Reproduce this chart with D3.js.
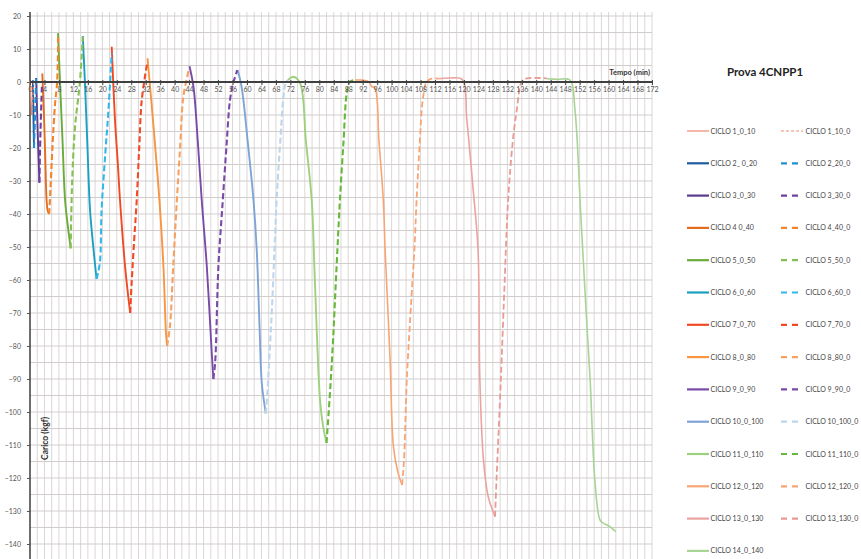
<!DOCTYPE html>
<html><head><meta charset="utf-8">
<script src="https://cdn.jsdelivr.net/npm/d3@7"></script>
<style>body{margin:0;background:#fff;}svg{display:block;font-family:Lato,"Open Sans",sans-serif;}</style>
</head><body>
<svg id="c" width="861" height="559"></svg>
<script>
// ---- data (time in min, load in kgf) ----
const load1 = [[0,0.5],[0.2,-4],[0.5,-10]];
const unload1 = [[0.5,-10],[0.8,-4],[1.0,0]];
const load2 = [[0.8,0.5],[0.95,-10],[1.1,-20]];
const unload2 = [[1.1,-20],[1.4,-10],[1.7,1]];
const load3 = [[1.7,1.2],[2.1,-14],[2.6,-30.5]];
const unload3 = [[2.6,-30.5],[2.9,-15],[3.3,-1]];
const load4 = [[3.4,2.6],[3.8,-8],[4.2,-22],[4.6,-36],[4.9,-39],[5.3,-40]];
const unload4 = [[5.3,-40],[5.5,-36],[6.2,-20],[6.9,-7],[7.5,0],[7.8,14.2]];
const load5 = [[7.75,14.8],[8.3,0],[9.0,-18],[9.7,-35.8],[10.5,-44],[11.25,-50.4]];
const unload5 = [[11.25,-50.4],[11.5,-36],[11.8,-26],[12.5,-13],[13.8,0],[14.6,13.7]];
const load6 = [[14.6,13.9],[15.2,-0.4],[15.9,-20],[16.6,-38.8],[17.5,-50],[18.4,-59.7]];
const unload6 = [[18.4,-59.7],[19.3,-55],[19.8,-38.8],[20.8,-22],[21.7,-8.5],[22.6,8.7]];
const load7 = [[22.6,10.7],[23.5,-11.5],[24.3,-25],[24.9,-36],[26.3,-56],[27.7,-70]];
const unload7 = [[27.7,-70],[28.1,-61],[28.8,-48],[29.5,-36],[30.2,-20],[30.9,-5.5],[32.4,5.7]];
const load8 = [[32.5,7.2],[33.6,-6.4],[34.8,-22],[35.8,-36],[36.9,-56],[37.6,-76],[37.9,-80]];
const unload8 = [[37.9,-80],[38.7,-74],[39.6,-56],[40.6,-36],[41.5,-20],[42.4,-4.5],[44,4.1]];
const load9 = [[44.1,4.8],[45.2,-1.4],[46.4,-18],[47.5,-36],[48.9,-56],[50.2,-81],[50.7,-90]];
const unload9 = [[50.7,-90],[51.2,-85],[52.1,-56],[53.3,-36],[54.3,-20],[55.3,-5.5],[56.2,-0.4],[57.3,3.6]];
const load10 = [[57.4,3.6],[58.5,-1.4],[60.2,-18],[61.8,-35.8],[62.7,-50.9],[63.5,-75],[64.1,-91.3],[65.2,-100.4]];
const unload10 = [[65.2,-100.4],[65.5,-96.4],[66.8,-71],[67.6,-50.9],[68.2,-35.8],[69.2,-18],[70.1,-4.5],[70.8,0.1],[71.4,0.6]];
const load11 = [[71.4,0.6],[72.8,1.6],[74.7,-0.4],[76.3,-18],[77.9,-35.8],[78.8,-61],[80.2,-96.4],[81,-104],[82,-109.4]];
const unload11 = [[82,-109.4],[83.4,-86.3],[85,-50.9],[85.7,-35.8],[86.7,-18],[87.6,-3.4],[88.5,0.1],[89.9,0.6]];
const load12 = [[89.9,0.6],[91.3,0.6],[93.6,0.1],[94.5,-1.4],[95.4,-1.8],[96.5,-18],[97.7,-35.8],[98.2,-50.9],[99.0,-70],[99.6,-85],[100.5,-110.5],[101.8,-118.6],[102.9,-122.1]];
const unload12 = [[102.9,-122.1],[103.4,-115],[104.2,-90.3],[105.5,-65],[106.3,-50.9],[106.9,-35.8],[107.8,-18],[108.6,-5.5],[109.7,0.1],[111,1],[113,1]];
const load13 = [[113,1],[116,1.2],[119.5,0.8],[120.8,-11.5],[122.5,-32],[123.9,-51],[124.4,-90.3],[125.4,-114.5],[126.7,-125.6],[128.6,-131.7]];
const unload13 = [[128.6,-131.7],[129,-120.6],[130.2,-90.3],[131.2,-62],[132.2,-36],[133.5,-18],[134.6,-8.5],[136,0.1],[137.4,1.1],[142.9,1.1]];
const load14 = [[142.9,1],[146,0.8],[149.3,0.6],[150.7,-8.5],[152.3,-40],[153.8,-70],[154.9,-90.3],[156.2,-120.6],[157.6,-132.7],[158.5,-133.7],[160.3,-134.7],[162,-136.3]];

const loadSeries = [load1,load2,load3,load4,load5,load6,load7,load8,load9,load10,load11,load12,load13,load14];
const unloadSeries = [unload1,unload2,unload3,unload4,unload5,unload6,unload7,unload8,unload9,unload10,unload11,unload12,unload13];
const loadNames = ["CICLO 1_0_10","CICLO 2_ 0_20","CICLO 3_0_30","CICLO 4 0_40","CICLO 5_0_50","CICLO 6_0_60","CICLO 7_0_70","CICLO 8_0_80","CICLO 9_0_90","CICLO 10_0_100","CICLO 11_0_110","CICLO 12_0_120","CICLO 13_0_130","CICLO 14_0_140"];
const unloadNames = ["CICLO 1_10_0","CICLO 2_20_0","CICLO 3_30_0","CICLO 4_40_0","CICLO 5_50_0","CICLO 6_60_0","CICLO 7_70_0","CICLO 8_80_0","CICLO 9_90_0","CICLO 10_100_0","CICLO 11_110_0","CICLO 12_120_0","CICLO 13_130_0"];
const loadColors = ["#f08a70","#1f5da0","#5c3b8f","#e46c1e","#6aab3a","#1aa0c0","#f04a25","#f79540","#7a4aa8","#7ea4d6","#9fd080","#f7a575","#eba3a0","#a8d496"];
const unloadColors = ["#f08a70","#1e90d8","#7040a0","#f5832a","#86c050","#30b8ea","#f04a25","#f7a060","#7a4aa8","#bcd6ee","#66b83a","#f7a575","#e89a95"];
const xTicks = d3.range(0, 173, 4);
const yTicks = d3.range(-140, 21, 10);
const title = "Prova 4CNPP1";
const xLabel = "Tempo (min)";
const yLabel = "Carico (kgf)";

// ---- layout ----
const svg = d3.select("#c");
const x = d3.scaleLinear().domain([0,172]).range([30,652]);
const y = d3.scaleLinear().domain([-140,20]).range([544,16]);
const plotTop = 12, plotBottom = 562;

const grid = svg.append("g");
grid.selectAll("line.v").data(d3.range(2,173,2)).join("line")
  .attr("x1", d=>x(d)).attr("x2", d=>x(d)).attr("y1", plotTop).attr("y2", plotBottom)
  .attr("stroke", "#dcd6d6").attr("stroke-width", 1);
grid.selectAll("line.h").data(d3.range(-145,21,5)).join("line")
  .attr("x1", x(0)).attr("x2", x(172)).attr("y1", d=>y(d)).attr("y2", d=>y(d))
  .attr("stroke", "#d2cdcd").attr("stroke-width", 1.2);

// y axis
const yAxis = svg.append("g").attr("transform", `translate(${x(0)},0)`)
  .call(d3.axisLeft(y).tickValues(yTicks).tickSize(3).tickPadding(6));
yAxis.select(".domain").remove();
yAxis.selectAll(".tick line").attr("stroke", "#555");
yAxis.selectAll("text").attr("font-size", 7).attr("fill", "#555").attr("font-family","Lato, sans-serif");
svg.append("line").attr("x1", x(0)).attr("x2", x(0)).attr("y1", plotTop).attr("y2", plotBottom)
  .attr("stroke", "#4a4a4a").attr("stroke-width", 1.6);

// lines
const lineGen = d3.line().x(d=>x(d[0])).y(d=>y(d[1])).curve(d3.curveCatmullRom.alpha(0.5));
const lineG = svg.append("g").attr("fill","none").attr("stroke-linejoin","round");
loadSeries.forEach((s,i)=>{
  lineG.append("path").datum(s).attr("d", lineGen)
    .attr("stroke", loadColors[i]).attr("stroke-width", i===0 ? 1.2 : (i>=11 ? 1.6 : 1.9));
});
unloadSeries.forEach((s,i)=>{
  lineG.append("path").datum(s).attr("d", lineGen)
    .attr("stroke", unloadColors[i]).attr("stroke-width", i===0 ? 1.2 : (i>=11 ? 1.8 : 2.1))
    .attr("stroke-dasharray", i===0 ? "3,2" : "6,3");
});

// x axis at y=0
const xAxis = svg.append("g").attr("transform", `translate(0,${y(0)})`)
  .call(d3.axisBottom(x).tickValues(xTicks).tickSize(3).tickPadding(2));
xAxis.select(".domain").remove();
xAxis.selectAll(".tick line").attr("stroke", "#444").attr("y1", -2);
xAxis.selectAll("text").attr("font-size", 7).attr("fill", "#555").attr("font-family","Lato, sans-serif");
svg.append("line").attr("x1", x(0)).attr("x2", x(172)).attr("y1", y(0)).attr("y2", y(0))
  .attr("stroke", "#3f3f3f").attr("stroke-width", 1.8);

svg.append("text").attr("x", x(172)-2).attr("y", y(0)-7).attr("text-anchor","end")
  .attr("font-size", 7.5).attr("font-weight","bold").attr("fill","#333").text(xLabel);
svg.append("text").attr("transform", `translate(48,${y(-108)}) rotate(-90)`).attr("text-anchor","middle")
  .attr("font-size", 8.5).attr("font-weight","bold").attr("fill","#333").text(yLabel);

// title
svg.append("text").attr("x", 765).attr("y", 76).attr("text-anchor","middle")
  .attr("font-size", 11.5).attr("font-weight","bold").attr("fill","#222").text(title);

// legend
const leg = svg.append("g");
const rowY = i => 131 + i*32.3;
loadNames.forEach((n,i)=>{
  leg.append("line").attr("x1",687).attr("x2",709).attr("y1",rowY(i)).attr("y2",rowY(i))
    .attr("stroke", loadColors[i]).attr("stroke-width", i===0?1.2:2.2);
  leg.append("text").attr("x",710.5).attr("y",rowY(i)+2.5).attr("font-size",7).attr("fill","#444").text(n);
});
unloadNames.forEach((n,i)=>{
  leg.append("line").attr("x1",781).attr("x2",803).attr("y1",rowY(i)).attr("y2",rowY(i))
    .attr("stroke", unloadColors[i]).attr("stroke-width", i===0?1.2:2.2)
    .attr("stroke-dasharray", i===0 ? "3,2" : "6,5");
  leg.append("text").attr("x",805.5).attr("y",rowY(i)+2.5).attr("font-size",7).attr("fill","#444").text(n);
});
</script>
</body></html>
